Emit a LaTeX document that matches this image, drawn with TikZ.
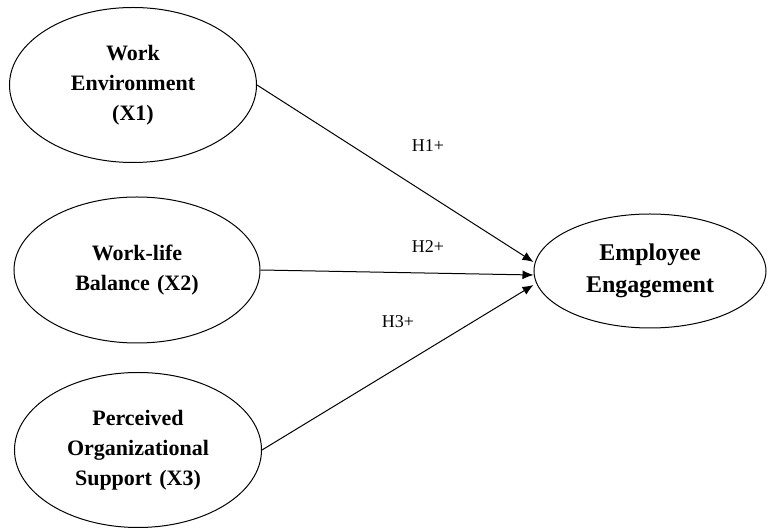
\documentclass[tikz,border=0pt]{standalone}
\usepackage{fontspec}
\setmainfont{Liberation Serif}
\usetikzlibrary{positioning, shapes.geometric, arrows.meta}

\begin{document}
\begin{tikzpicture}[
    x=0.5pt, y=-0.5pt,
    construct/.style={ellipse, draw, line width=0.5pt, inner sep=0pt, text width=2.6cm, align=center, font=\fontsize{11}{15}\selectfont\bfseries},
    outcome/.style={ellipse, draw, line width=0.5pt, inner sep=0pt, text width=2.4cm, align=center, minimum width=116pt, minimum height=57pt, font=\fontsize{12}{16}\selectfont\bfseries},
    arrow/.style={-{Latex[length=5.5pt, width=4.5pt]}, line width=0.5pt},
    hyp/.style={font=\fontsize{9}{11}\selectfont}
]
\useasboundingbox (0,0) rectangle (768,529);

% Independent variables
\node[construct, minimum width=123.5pt, minimum height=77.5pt] (env) at (133,85) {Work\\Environment\\(X1)};
\node[construct, minimum width=123pt, minimum height=73pt] (bal) at (137,270) {Work-life\\Balance (X2)};
\node[construct, minimum width=123.5pt, minimum height=77.5pt] (pos) at (138,450) {Perceived\\Organizational\\Support (X3)};

% Dependent variable
\node[outcome] (eng) at (650,271) {Employee\\Engagement};

% Arrows
\draw[arrow] (env.east) -- ([yshift=4.5pt]eng.west);
\draw[arrow] (bal.east) -- ([yshift=-2pt]eng.west);
\draw[arrow] (pos.east) -- ([yshift=-7pt]eng.west);

% Labels
\node[hyp] (h1) at (428,146) {H1+};
\node[hyp] (h2) at (428,247) {H2+};
\node[hyp] (h3) at (398,322) {H3+};
\end{tikzpicture}
\end{document}
